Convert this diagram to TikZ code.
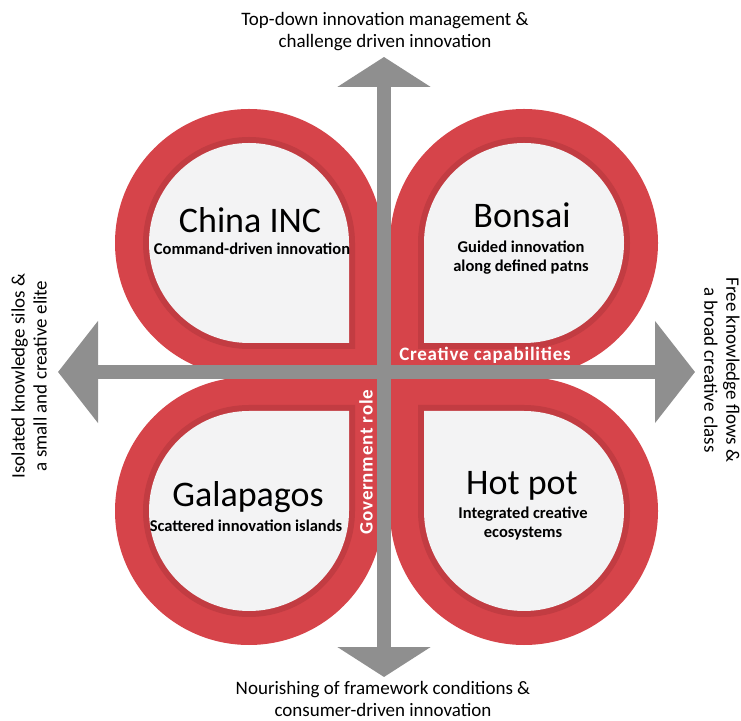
\documentclass[tikz,border=0pt]{standalone}
\usepackage{fontspec}
\setmainfont{Carlito}
\usetikzlibrary{arrows.meta, positioning}
\definecolor{petalred}{HTML}{D6444A}
\definecolor{petalshade}{HTML}{C23C42}
\definecolor{petalpaper}{HTML}{F3F3F4}
\definecolor{axisgray}{HTML}{8F8F8F}

\begin{document}
\begin{tikzpicture}[x=1pt, y=1pt,
    title/.style={font=\fontsize{36}{40}\selectfont, anchor=base},
    subtitle/.style={font=\bfseries\fontsize{16.5}{19}\selectfont,
      align=center, anchor=base},
    axislabel/.style={font=\fontsize{19}{22}\selectfont, align=center},
    bandlabel/.style={font=\bfseries\fontsize{19}{20}\selectfont
      \addfontfeature{LetterSpace=4}, text=white},
    axisline/.style={axisgray, line width=14pt}]
      \useasboundingbox (0,0) rectangle (741,720);

      % petals: ring, shadow, paper
      \foreach \cx/\cy/\rot in {249/477/0, 524/477/-90, 249/209/90, 524/209/180} {
        \begin{scope}[shift={(\cx,\cy)}, rotate=\rot]
          \foreach \r/\col in {134/petalred, 106/petalshade, 100/petalpaper}
            \fill[\col] (\r,0) -- (\r,-\r) -- (0,-\r)
              arc[start angle=270, end angle=0, radius=\r] -- cycle;
        \end{scope}
      }

      \coordinate (west) at (58,348);
      \coordinate (east) at (695,348);
      \coordinate (north) at (384,663);
      \coordinate (south) at (384,43);

      \draw[axisline, {Triangle[length=40pt, width=100pt]}-{Triangle[length=40pt, width=100pt]}]
        (west) -- (east);
      \draw[axisline, {Triangle[length=30pt, width=92pt]}-{Triangle[length=30pt, width=92pt]}]
        (south) -- (north);

      \node[title] (china) at (250,487) {China INC};
      \node[subtitle] (chinasub) at (252,465) {Command-driven innovation};

      \node[title] (bonsai) at (522,492) {Bonsai};
      \node[subtitle] (bonsaisub) at (521,448) {Guided innovation\\along defined patns};

      \node[title] (galapagos) at (248,213) {Galapagos};
      \node[subtitle] (galapagossub) at (246,188) {Scattered innovation islands};

      \node[title] (hotpot) at (522,225) {Hot pot};
      \node[subtitle] (hotpotsub) at (523,182) {Integrated creative\\ecosystems};

      \node[bandlabel, anchor=base] (capab) at (485,359) {Creative capabilities};
      \node[bandlabel, rotate=90] (govrole) at (366,258) {Government role};

      \node[axislabel] (toplabel) at (385,688)
        {Top-down innovation management \&\\challenge driven innovation};
      \node[axislabel] (bottomlabel) at (383,21)
        {Nourishing of framework conditions \&\\consumer-driven innovation};
      \node[axislabel, rotate=90] (leftlabel) at (29,344)
        {Isolated knowledge silos \&\\a small and creative elite};
      \node[axislabel, rotate=-90] (rightlabel) at (722,350)
        {Free knowledge flows \&\\a broad creative class};
    \end{tikzpicture}
\end{document}
